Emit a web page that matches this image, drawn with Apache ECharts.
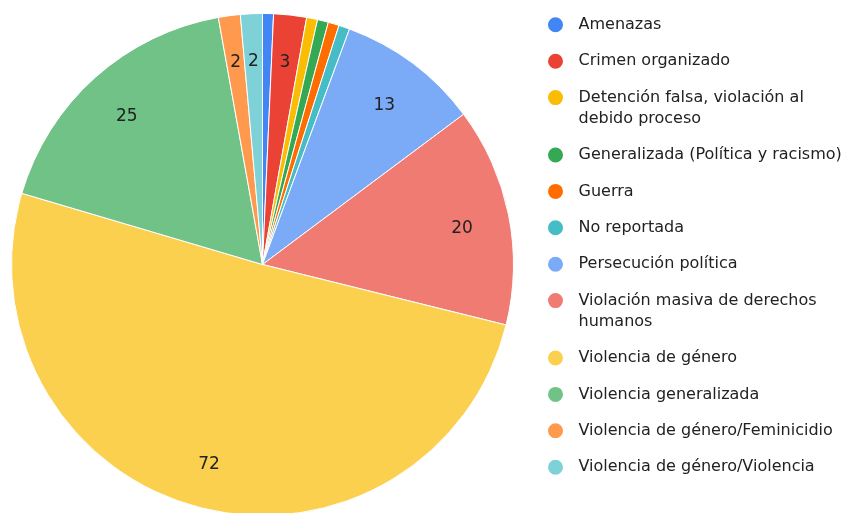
<!DOCTYPE html>
<html>
<head>
<meta charset="utf-8">
<script src="https://cdn.jsdelivr.net/npm/echarts@6/dist/echarts.min.js"></script>
<style>
html,body{margin:0;padding:0;background:#fff;}
#chart{width:847px;height:513px;}
</style>
</head>
<body>
<div id="chart"></div>
<script>
const categories = [
  'Amenazas',
  'Crimen organizado',
  'Detención falsa, violación al\ndebido proceso',
  'Generalizada (Política y racismo)',
  'Guerra',
  'No reportada',
  'Persecución política',
  'Violación masiva de derechos\nhumanos',
  'Violencia de género',
  'Violencia generalizada',
  'Violencia de género/Feminicidio',
  'Violencia de género/Violencia'
];
const values = [1, 3, 1, 1, 1, 1, 13, 20, 72, 25, 2, 2];
const colors = ['#4285F4', '#EA4335', '#FBBC04', '#34A853', '#FF6D01', '#46BDC6',
                '#7BAAF7', '#F07B72', '#FCD04F', '#71C287', '#FF994D', '#7ED1D7'];

const FONT = 'DejaVu Sans';
const data = categories.map((c, i) => ({ name: c, value: values[i], itemStyle: { color: colors[i] } }));

// legend: one component per entry so multi-line entries align the marker with the first line
const legends = [];
let y = 24.8;
categories.forEach((c, i) => {
  const lines = c.split('\n').length;
  const multi = lines > 1;
  legends.push({
    show: true,
    orient: 'vertical',
    left: 546,
    top: multi ? y - 31.5 : y - 10.5,
    padding: 0,
    icon: 'circle',
    itemWidth: 36,
    itemHeight: 17,
    selectedMode: false,
    data: [c],
    // a leading empty line keeps the first text line level with the marker
    formatter: name => (name.indexOf('\n') >= 0 ? '\n' + name : name),
    textStyle: { fontFamily: FONT, fontSize: 16, color: '#222', lineHeight: 21 }
  });
  y += 36.4 + (lines - 1) * 21;
});

const chart = echarts.init(document.getElementById('chart'), null, { renderer: 'canvas' });
chart.setOption({
  animation: false,
  backgroundColor: '#fff',
  legend: legends,
  series: [
    {
      type: 'pie',
      center: [262.5, 264.5],
      radius: [0, 251],
      startAngle: 90,
      clockwise: true,
      data: data,
      label: { show: false },
      labelLine: { show: false },
      itemStyle: { borderColor: '#fff', borderWidth: 1 },
      emphasis: { disabled: true }
    },
    {
      type: 'pie',
      center: [262.5, 264.5],
      radius: [150, 251],
      startAngle: 90,
      clockwise: true,
      silent: true,
      data: data.map(d => ({ name: d.name, value: d.value })),
      itemStyle: { color: 'rgba(0,0,0,0)' },
      label: {
        show: true,
        position: 'inside',
        fontFamily: FONT,
        fontSize: 17,
        color: '#222',
        formatter: p => (p.value >= 2 ? String(p.value) : '')
      },
      labelLayout: p => ({ dy: values[p.dataIndex] >= 10 ? 4 : 0 }),
      labelLine: { show: false },
      emphasis: { disabled: true }
    }
  ]
});
</script>
</body>
</html>
